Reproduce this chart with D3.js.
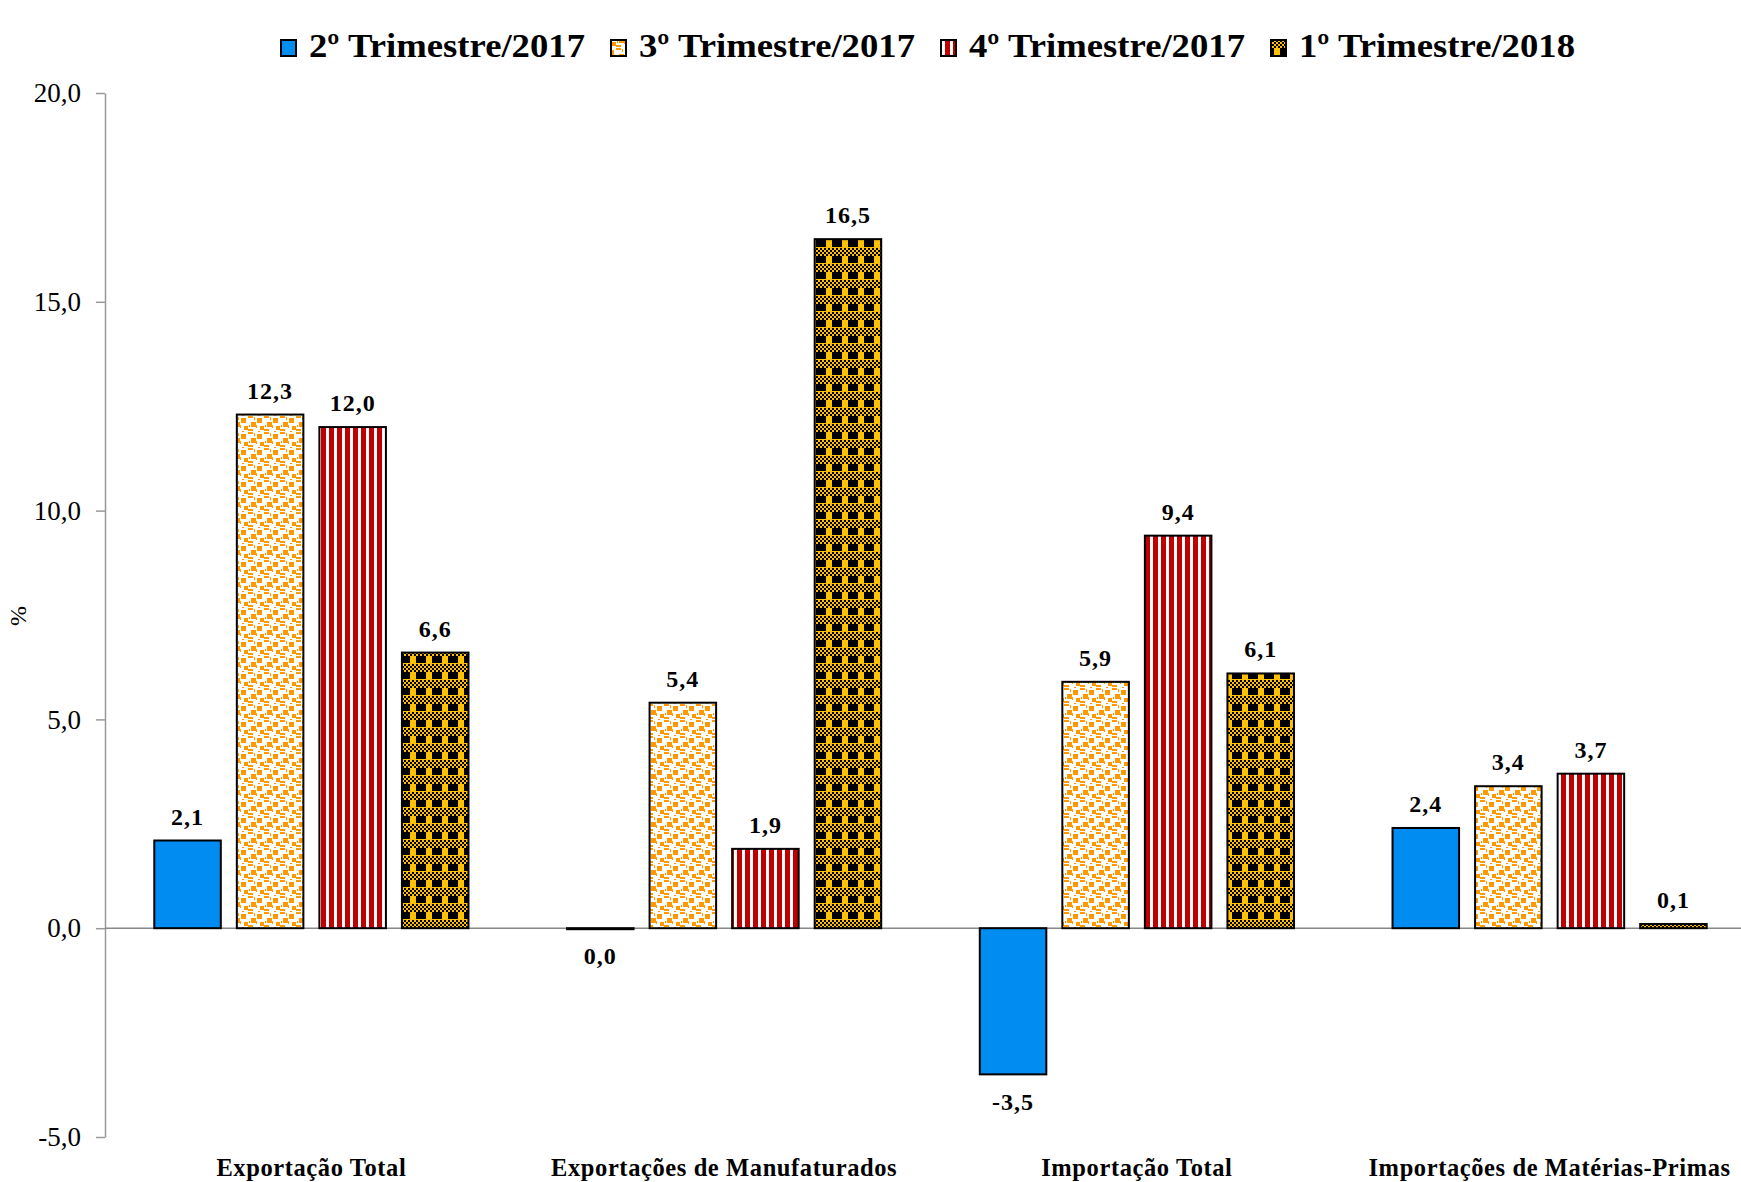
<!DOCTYPE html>
<html>
<head>
<meta charset="utf-8">
<script src="https://cdn.jsdelivr.net/npm/d3@7"></script>
<style>
  body { margin: 0; background: #fff; }
  svg { display: block; }
</style>
</head>
<body>
<svg id="chart"></svg>
<script>
// Data (variação %, trimestre contra trimestre).
const categories = [
  "Exportação Total",
  "Exportações de Manufaturados",
  "Importação Total",
  "Importações de Matérias-Primas"
];
const seriesNames = ["2º Trimestre/2017", "3º Trimestre/2017", "4º Trimestre/2017", "1º Trimestre/2018"];
const q2_2017 = [2.1, 0.0, -3.5, 2.4];
const q3_2017 = [12.3, 5.4, 5.9, 3.4];
const q4_2017 = [12.0, 1.9, 9.4, 3.7];
const q1_2018 = [6.6, 16.5, 6.1, 0.1];
const yTicks = [-5, 0, 5, 10, 15, 20];

const seriesValues = [q2_2017, q3_2017, q4_2017, q1_2018];
const fills = ["#008cf0", "url(#patOrange)", "url(#patRed)", "url(#patGold)"];

const width = 1741, height = 1182;
const axisX = 105;
const serif = "'Liberation Serif', serif";
const fmt = (v) => d3.format(".1f")(v).replace(".", ",").replace("\u2212", "-");

const svg = d3.select("#chart").attr("width", width).attr("height", height);

// Fill patterns (Excel-like hatches).
const defs = svg.append("defs");

const pOrange = defs.append("pattern").attr("id", "patOrange")
  .attr("patternUnits", "userSpaceOnUse").attr("width", 16).attr("height", 16);
pOrange.append("rect").attr("width", 16).attr("height", 16).attr("fill", "#fff");
[[1, 2, 5, 5], [8, 0, 5, 2], [11, 6, 5, 5], [4, 10, 4, 4], [0, 9, 1, 3],
 [8, 13, 5, 2], [14, 1, 1, 3], [9, 9, 1, 2], [2, 15, 2, 1]].forEach(([x, y, w, h]) => {
  pOrange.append("rect").attr("x", x).attr("y", y).attr("width", w).attr("height", h).attr("fill", "#ff9900");
});

const pRed = defs.append("pattern").attr("id", "patRed")
  .attr("patternUnits", "userSpaceOnUse").attr("width", 8).attr("height", 8);
pRed.append("rect").attr("width", 8).attr("height", 8).attr("fill", "#fff");
pRed.append("rect").attr("x", 1).attr("width", 5).attr("height", 8).attr("fill", "#c00000");

const pGold = defs.append("pattern").attr("id", "patGold")
  .attr("patternUnits", "userSpaceOnUse").attr("width", 16).attr("height", 16);
pGold.append("rect").attr("width", 16).attr("height", 16).attr("fill", "#ffc000");
pGold.append("rect").attr("x", 0).attr("y", 0).attr("width", 10).attr("height", 7).attr("fill", "#000");
for (let cy = 8; cy < 16; cy += 2) {
  for (let cx = 0; cx < 16; cx += 2) {
    if (((cx + cy) / 2) % 2 === 0) {
      pGold.append("rect").attr("x", cx).attr("y", cy).attr("width", 2).attr("height", 2).attr("fill", "#000");
    }
  }
}

// Scales.
const x0 = d3.scaleBand().domain(categories).range([axisX, 1756]);
const x1 = d3.scaleBand().domain(seriesNames).range([0, x0.bandwidth()])
  .paddingInner(0.194).paddingOuter(0.597);
const y = d3.scaleLinear().domain([-5, 20]).range([1137, 93]);

// Y axis.
const yAxis = svg.append("g").attr("transform", `translate(${axisX},0)`)
  .call(d3.axisLeft(y).tickValues(yTicks).tickFormat(fmt).tickSize(9).tickSizeOuter(0).tickPadding(15));
yAxis.select(".domain").attr("stroke", "#999").attr("stroke-width", 1.5);
yAxis.selectAll(".tick line").attr("stroke", "#999").attr("stroke-width", 1.5);
yAxis.selectAll(".tick text")
  .attr("font-family", serif).attr("font-size", 27).attr("fill", "#000");

svg.append("text")
  .attr("transform", `translate(26,616) rotate(-90)`)
  .attr("text-anchor", "middle")
  .attr("font-family", serif).attr("font-size", 24)
  .text("%");

// Zero line (drawn under the bars).
svg.append("line")
  .attr("x1", axisX).attr("x2", width)
  .attr("y1", y(0)).attr("y2", y(0))
  .attr("stroke", "#888").attr("stroke-width", 1.5);

// Bars.
seriesNames.forEach((s, si) => {
  const g = svg.append("g");
  categories.forEach((c, ci) => {
    const v = seriesValues[si][ci];
    const bx = x0(c) + x1(s);
    g.append("rect")
      .attr("x", bx)
      .attr("y", y(Math.max(0, v)))
      .attr("width", x1.bandwidth())
      .attr("height", Math.max(1, Math.abs(y(v) - y(0))))
      .attr("fill", fills[si])
      .attr("stroke", "#000").attr("stroke-width", 2);
    g.append("text")
      .attr("x", bx + x1.bandwidth() / 2)
      .attr("y", v > 0 ? y(v) - 16 : y(v) + 36)
      .attr("text-anchor", "middle")
      .attr("font-family", serif).attr("font-weight", "bold").attr("font-size", 24)
      .attr("letter-spacing", 1)
      .text(fmt(v));
  });
});

// Category labels.
svg.append("g").selectAll("text").data(categories).join("text")
  .attr("x", (d) => x0(d) + x0.bandwidth() / 2)
  .attr("y", 1176)
  .attr("text-anchor", "middle")
  .attr("font-family", serif).attr("font-weight", "bold").attr("font-size", 24.5)
  .attr("letter-spacing", 0.6)
  .text((d) => d);

// Legend.
const legend = svg.append("g");
let lx = 281;
seriesNames.forEach((s, si) => {
  legend.append("rect")
    .attr("x", lx).attr("y", 40).attr("width", 15).attr("height", 16)
    .attr("fill", fills[si]).attr("stroke", "#000").attr("stroke-width", 2);
  legend.append("text")
    .attr("x", lx + 28).attr("y", 57)
    .attr("font-family", serif).attr("font-weight", "bold").attr("font-size", 33)
    .attr("textLength", 276).attr("lengthAdjust", "spacingAndGlyphs")
    .text(s);
  lx += 330;
});
</script>
</body>
</html>
